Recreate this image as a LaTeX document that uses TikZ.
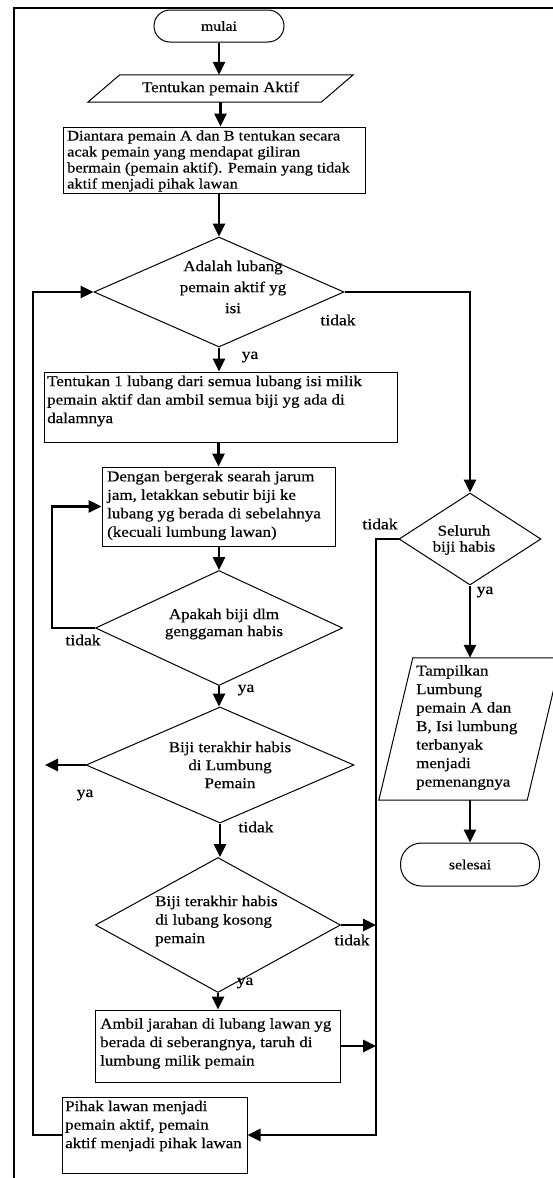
\documentclass[tikz,border=0pt]{standalone}
\usepackage{fontspec}
\setmainfont{Liberation Serif}[FakeStretch=1.13,FakeBold=0.4]
\usetikzlibrary{shapes.geometric,arrows.meta}
\begin{document}
\begin{tikzpicture}[x=1pt,y=-1pt,
  conn/.style={line width=2.7pt, draw=black},
  arr/.style={conn, -{Triangle[length=13pt,width=12pt]}},
  shp/.style={draw=black, line width=1pt, inner sep=0pt},
  boxs/.style={shp, rectangle},
  dia/.style={shp, diamond},
  termA/.style={shp, rectangle, rounded corners=16pt},
  termB/.style={shp, rectangle, rounded corners=21pt},
  txt/.style={inner sep=0pt, align=left, font=\fontsize{15}{18.5}\selectfont},
  txts/.style={inner sep=0pt, align=left, font=\fontsize{14.5}{16}\selectfont},
  txtc/.style={inner sep=0pt, align=center, font=\fontsize{15}{#1}\selectfont},
  lbl/.style={inner sep=0pt, font=\fontsize{15.5}{17}\selectfont},
  tfont/.style={font=\fontsize{14}{16}\selectfont}
]
\useasboundingbox (0,0) rectangle (553,1178);
\draw[line width=1.4pt] (14,1178) -- (14,8) -- (553,8);

% terminals
\node[termA, minimum width=130pt, minimum height=32pt, tfont] (mulai) at (219,26) {mulai};
\node[termB, minimum width=139pt, minimum height=43pt, tfont] (sel) at (470,864.5) {selesai};

% input parallelogram 1
\node[inner sep=0pt, minimum width=233pt, minimum height=27pt, txtc=17] (p1) at (220.5,88.5) {Tentukan pemain Aktif};
\draw[shp] ([xshift=-16pt]p1.south west) -- ([xshift=16pt]p1.north west) -- ([xshift=16pt]p1.north east) -- ([xshift=-16pt]p1.south east) -- cycle;

% process boxes
\node[boxs, minimum width=302pt, minimum height=66pt] (r1) at (214,160) {};
\node[txts, anchor=west] (r1t) at (67,161) {Diantara pemain A dan B tentukan secara\\acak pemain yang mendapat giliran\\bermain (pemain aktif). Pemain yang tidak\\aktif menjadi pihak lawan};

\node[boxs, minimum width=353pt, minimum height=70pt] (r2) at (220.5,407) {};
\node[txt, anchor=west] (r2t) at (47,401) {Tentukan 1 lubang dari semua lubang isi milik\\pemain aktif dan ambil semua biji yg ada di\\dalamnya};

\node[boxs, minimum width=233pt, minimum height=79pt] (r3) at (218.5,506.5) {};
\node[txt, anchor=west] (r3t) at (107,505.5) {Dengan bergerak searah jarum\\jam, letakkan sebutir biji ke\\lubang yg berada di sebelahnya\\(kecuali lumbung lawan)};

\node[boxs, minimum width=245pt, minimum height=72pt] (r4) at (217.5,1046) {};
\node[txt, anchor=west] (r4t) at (100,1043.5) {Ambil jarahan di lubang lawan yg\\berada di seberangnya, taruh di\\lumbung milik pemain};

\node[boxs, minimum width=185pt, minimum height=76pt] (r5) at (154.5,1135) {};
\node[txt, anchor=west] (r5t) at (65,1126) {Pihak lawan menjadi\\pemain aktif, pemain\\aktif menjadi pihak lawan};

% decisions
\node[dia, minimum width=250pt, minimum height=110pt] (d1) at (219,292) {};
\node[txtc=21] (d1t) at (233,287) {Adalah lubang\\pemain aktif yg\\isi};

\node[dia, minimum width=247pt, minimum height=115pt] (d2) at (219,628) {};
\node[txtc=17] (d2t) at (224,624) {Apakah biji dlm\\genggaman habis};

\node[dia, minimum width=268pt, minimum height=116pt] (d3) at (220,765) {};
\node[txtc=18] (d3t) at (230,765) {Biji terakhir habis\\di Lumbung\\Pemain};

\node[dia, minimum width=245pt, minimum height=135pt] (d4) at (218,925) {};
\node[txt, anchor=west] (d4t) at (155,921) {Biji terakhir habis\\di lubang kosong\\pemain};

\node[dia, minimum width=142pt, minimum height=92pt] (d5) at (470,539) {};
\node[txtc=16] (d5t) at (464,540) {Seluruh\\biji habis};

% output parallelogram 2
\node[inner sep=0pt, minimum width=148pt, minimum height=142pt] (p2) at (470,729) {};
\draw[shp] ([xshift=-17pt]p2.south west) -- ([xshift=17pt]p2.north west) -- ([xshift=17pt]p2.north east) -- ([xshift=-17pt]p2.south east) -- cycle;
\node[txt, anchor=west] (p2t) at (416,727.5) {Tampilkan\\Lumbung\\pemain A dan\\B, Isi lumbung\\terbanyak\\menjadi\\pemenangnya};

% helper coordinates
\coordinate (rtop) at (376,539);
\coordinate (rbot) at (376,1135);
\coordinate (lbot) at (33,1135);
\coordinate (ltop) at (33,292);
\coordinate (yaend) at (45,765);
\coordinate (lp1) at (52,628);
\coordinate (lp2) at (52,506.5);
\coordinate (rr) at (470,292);

% vertical flow
\draw[arr] (mulai.south) -- (mulai.south |- p1.north);
\draw[arr] (p1.south) -- (p1.south |- r1.north);
\draw[arr] (r1.south -| d1.north) -- (d1.north);
\draw[arr] (d1.south) -- (d1.south |- r2.north);
\draw[arr] (r2.south -| r3.north) -- (r3.north);
\draw[arr] (r3.south -| d2.north) -- (d2.north);
\draw[arr] (d2.south) -- (d2.south |- d3.north);
\draw[arr] (d3.south) -- (d3.south |- d4.north);
\draw[arr] (d4.south) -- (d4.south |- r4.north);
\draw[arr] (d5.south) -- (d5.south |- p2.north);
\draw[arr] (p2.south) -- (p2.south |- sel.north);

% loops and side connectors
\draw[arr] (d1.east) -- (rr) -- (d5.north);
\draw[arr] (d2.west) -- (lp1) -- (lp2) -- (r3.west);
\draw[arr] (d3.west) -- (yaend);
\draw[arr] (d4.east) -- (d4.east -| rtop);
\draw[arr] (r4.east) -- (r4.east -| rtop);
\draw[arr] (d5.west) -- (rtop) -- (rbot) -- (r5.east);
\draw[arr] (r5.west) -- (lbot) -- (ltop) -- (d1.west);

% labels
\node[lbl] (l1) at (338,320) {tidak};
\node[lbl] (l2) at (250,357) {ya};
\node[lbl] (l3) at (83,640) {tidak};
\node[lbl] (l4) at (246,690) {ya};
\node[lbl] (l5) at (85,795) {ya};
\node[lbl] (l6) at (256,827) {tidak};
\node[lbl] (l7) at (352,940) {tidak};
\node[lbl] (l8) at (245,983) {ya};
\node[lbl] (l9) at (380,524) {tidak};
\node[lbl] (l10) at (485,592) {ya};
\end{tikzpicture}
\end{document}
